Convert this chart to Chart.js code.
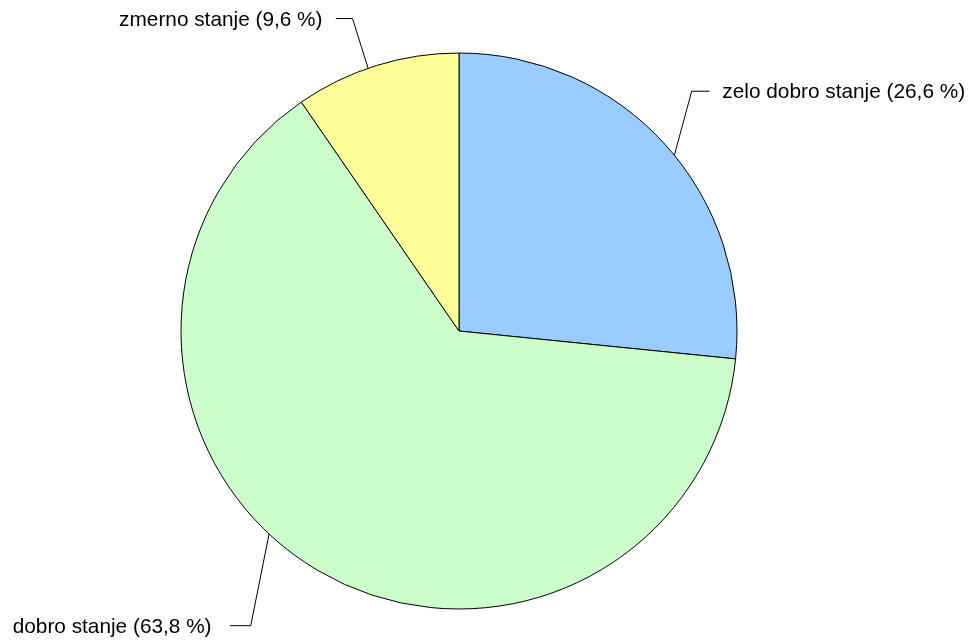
<!DOCTYPE html>
<html>
<head>
<meta charset="utf-8">
<script src="https://cdn.jsdelivr.net/npm/chart.js@4/dist/chart.umd.min.js"></script>
<style>
  html, body { margin: 0; padding: 0; background: #ffffff; }
  #wrap { width: 970px; height: 641px; position: relative; }
</style>
</head>
<body>
<div id="wrap"><canvas id="c" width="970" height="641"></canvas></div>
<script>
// ---- data ----
const categories = ['zelo dobro stanje', 'dobro stanje', 'zmerno stanje'];
const shares = [26.6, 63.8, 9.6];
const sliceColors = ['#99CCFF', '#CCFFCC', '#FFFF99'];

function fmt(v) { return v.toFixed(1).replace('.', ',') + ' %'; }

// leader line / label styling per slice (angle shift in degrees from slice middle,
// elbow offset from the arc point, horizontal run, text gap, side)
const leaderStyle = [
  { shift: 2.9,  ex: 17.3,  ey: -64,   run: 17.7, gap: 13,   side: 'right' },
  { shift: 12.5, ex: -18.3, ey: 91.7,  run: 20.7, gap: 18.5, side: 'left' },
  { shift: -1.8, ex: -15.6, ey: -49.7, run: 16.7, gap: 13.3, side: 'left' }
];

const labelPlugin = {
  id: 'leaderLabels',
  afterDatasetsDraw(chart) {
    const ctx = chart.ctx;
    const meta = chart.getDatasetMeta(0);
    ctx.save();
    ctx.font = "20.8px 'Liberation Sans', Arial, sans-serif";
    ctx.fillStyle = '#000000';
    ctx.strokeStyle = '#000000';
    ctx.lineWidth = 1;
    meta.data.forEach((arc, i) => {
      const st = leaderStyle[i];
      const p = arc.getProps(['x', 'y', 'startAngle', 'endAngle', 'outerRadius'], true);
      const a = (p.startAngle + p.endAngle) / 2 + st.shift * Math.PI / 180;
      const ax = p.x + p.outerRadius * Math.cos(a);
      const ay = p.y + p.outerRadius * Math.sin(a);
      const bx = ax + st.ex, by = ay + st.ey;
      const dir = st.side === 'right' ? 1 : -1;
      const cx = bx + dir * st.run;
      ctx.beginPath();
      ctx.moveTo(ax, ay);
      ctx.lineTo(bx, by);
      ctx.lineTo(cx, by);
      ctx.stroke();
      const txt = categories[i] + ' (' + fmt(shares[i]) + ')';
      ctx.textBaseline = 'alphabetic';
      ctx.textAlign = st.side === 'right' ? 'left' : 'right';
      ctx.fillText(txt, cx + dir * st.gap, by + 7.1);
    });
    ctx.restore();
  }
};

new Chart(document.getElementById('c'), {
  type: 'pie',
  data: {
    labels: categories,
    datasets: [{
      data: shares,
      backgroundColor: sliceColors,
      borderColor: '#000000',
      borderWidth: 1,
      radius: 278
    }]
  },
  options: {
    responsive: false,
    animation: false,
    layout: { padding: { left: 0, right: 52, top: 21, bottom: 0 } },
    plugins: {
      legend: { display: false },
      tooltip: { enabled: false }
    }
  },
  plugins: [labelPlugin]
});
</script>
</body>
</html>
